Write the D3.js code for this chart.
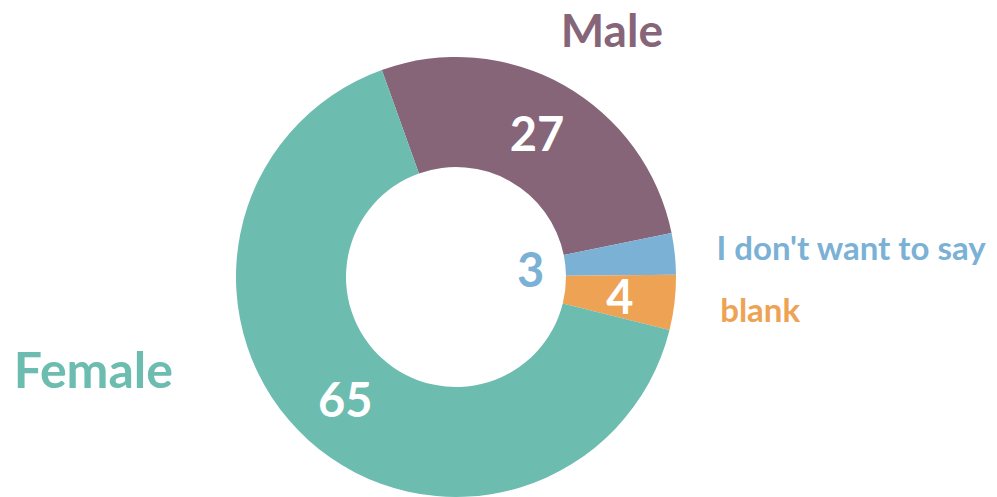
<!DOCTYPE html>
<html>
<head>
<meta charset="utf-8">
<script src="https://cdn.jsdelivr.net/npm/d3@7"></script>
<style>
  html, body { margin: 0; padding: 0; background: #fff; }
  text { font-family: "Trebuchet MS", Lato, sans-serif; font-weight: 700; }
</style>
</head>
<body>
<div id="donut-chart"></div>
<script>
var categories = ["Male", "I don't want to say", "blank", "Female"];
var counts = [27, 3, 4, 65];
var colors = ["#866579", "#7bb1d5", "#eea254", "#6cbcb0"];

var width = 997,
  height = 497;

var outerRadius = 220,
  innerRadius = 110,
  centerX = 456,
  centerY = 277;

// rotation of the first slice
var startAngle = -19.7 * Math.PI / 180;

// where the category names sit: polar angle (deg) and radius from the centre
var nameLayout = {
  "Male": { angle: 34.1, radius: 278, anchor: "middle", size: 46 },
  "I don't want to say": { angle: 86.3, radius: 261, anchor: "start", size: 33 },
  "blank": { angle: 99.7, radius: 268, anchor: "start", size: 33 },
  "Female": { angle: 248.6, radius: 304, anchor: "end", size: 50 }
};

var slices = categories.map(function(c, i) {
  return { category: c, count: counts[i], color: colors[i] };
});

var pie = d3
  .pie()
  .sort(null)
  .value(function(d) {
    return d.count;
  })
  .startAngle(startAngle)
  .endAngle(startAngle + 2 * Math.PI);

var arc = d3.arc().innerRadius(innerRadius).outerRadius(outerRadius);
// small slices get their number inside the hole
var holeArc = d3.arc().innerRadius(75).outerRadius(75);

var svg = d3
  .select("#donut-chart")
  .append("svg")
  .attr("width", width)
  .attr("height", height);

var g = svg
  .append("g")
  .attr("transform", "translate(" + centerX + "," + centerY + ")");

var arcs = pie(slices);

g.selectAll("path")
  .data(arcs)
  .enter()
  .append("path")
  .attr("d", arc)
  .attr("fill", function(d) {
    return d.data.color;
  });

function isSmall(d) {
  return d.endAngle - d.startAngle < 0.2;
}

g.selectAll("text.value")
  .data(arcs)
  .enter()
  .append("text")
  .attr("class", "value")
  .attr("text-anchor", "middle")
  .attr("dominant-baseline", "central")
  .attr("font-size", "47px")
  .attr("transform", function(d) {
    var c = isSmall(d) ? holeArc.centroid(d) : arc.centroid(d);
    return "translate(" + c[0] + "," + c[1] + ")";
  })
  .attr("fill", function(d) {
    return isSmall(d) ? d.data.color : "#fff";
  })
  .text(function(d) {
    return d.data.count;
  });

g.selectAll("text.name")
  .data(arcs)
  .enter()
  .append("text")
  .attr("class", "name")
  .attr("text-anchor", function(d) {
    return nameLayout[d.data.category].anchor;
  })
  .attr("font-size", function(d) {
    return nameLayout[d.data.category].size + "px";
  })
  .attr("x", function(d) {
    var l = nameLayout[d.data.category];
    return l.radius * Math.sin(l.angle * Math.PI / 180);
  })
  .attr("y", function(d) {
    var l = nameLayout[d.data.category];
    return -l.radius * Math.cos(l.angle * Math.PI / 180);
  })
  .attr("fill", function(d) {
    return d.data.color;
  })
  .text(function(d) {
    return d.data.category;
  });
</script>
</body>
</html>
